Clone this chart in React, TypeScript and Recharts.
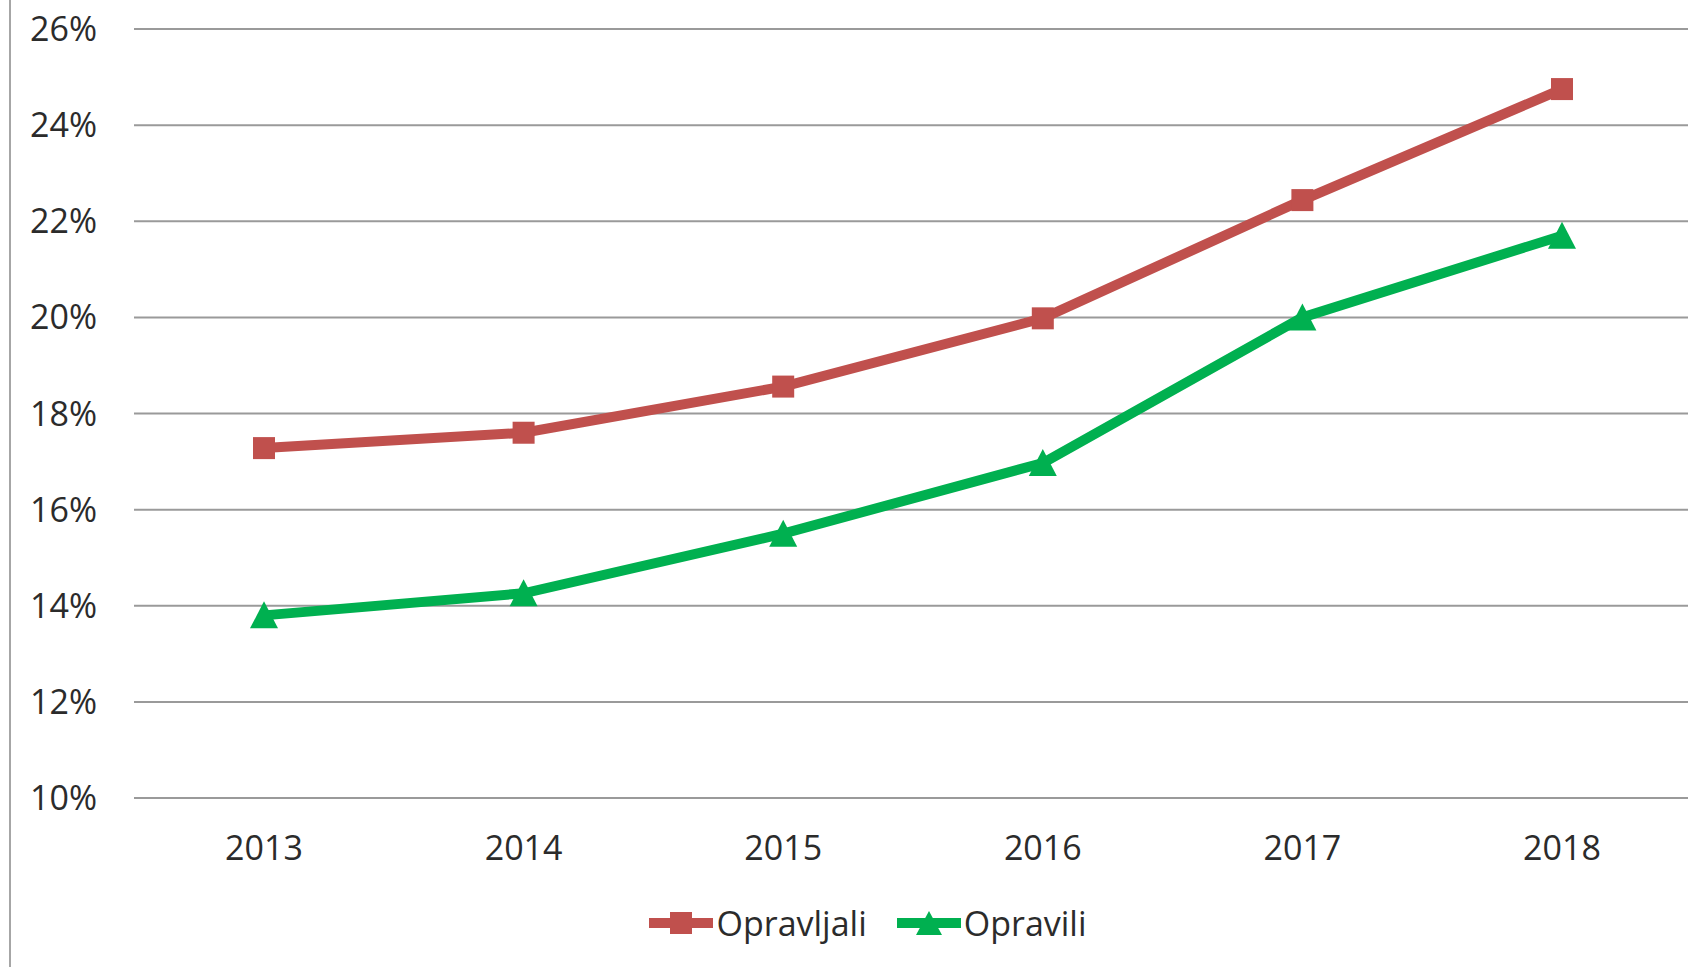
import React from "react";
import {
  LineChart,
  Line,
  XAxis,
  YAxis,
  CartesianGrid,
  Legend,
} from "recharts";

// categories and values
const years = ["2013", "2014", "2015", "2016", "2017", "2018"];
const opravljali = [17.28, 17.6, 18.56, 19.98, 22.44, 24.75];
const opravili = [13.8, 14.26, 15.5, 16.97, 20.0, 21.7];
const yTicks = [10, 12, 14, 16, 18, 20, 22, 24, 26];
const seriesOrder = ["opravljali", "opravili"];

const RED = "#C0504D";
const GREEN = "#00B050";
const FONT = "'Open Sans', sans-serif";
const TEXT = "#2b2b2b";

const data = years.map((year, i) => ({
  year,
  opravljali: opravljali[i],
  opravili: opravili[i],
}));

const SquareDot = (props: any) => {
  const { cx, cy, index } = props;
  if (cx == null || cy == null) return null;
  return <rect key={`sq-${index}`} x={cx - 11} y={cy - 11} width={22} height={22} fill={RED} />;
};

const TriangleDot = (props: any) => {
  const { cx, cy, index } = props;
  if (cx == null || cy == null) return null;
  return (
    <path
      key={`tr-${index}`}
      d={`M${cx},${cy - 14} L${cx + 14},${cy + 13} L${cx - 14},${cy + 13} Z`}
      fill={GREEN}
    />
  );
};

const LegendIcon = ({ color, shape }: { color: string; shape: string }) => (
  <svg width={64} height={30} style={{ display: "block" }}>
    <line x1={0} y1={15} x2={64} y2={15} stroke={color} strokeWidth={10} />
    {shape === "square" ? (
      <rect x={21} y={4} width={22} height={22} fill={color} />
    ) : (
      <path d="M32,3 L45,27 L19,27 Z" fill={color} />
    )}
  </svg>
);

const renderLegend = (props: any) => {
  const items = [...(props.payload || [])].sort(
    (a: any, b: any) => seriesOrder.indexOf(a.dataKey) - seriesOrder.indexOf(b.dataKey)
  );
  return (
    <div
      style={{
        height: 80,
        display: "flex",
        justifyContent: "center",
        alignItems: "flex-start",
        paddingTop: 18,
        paddingLeft: 64,
        boxSizing: "border-box",
      }}
    >
      {items.map((entry: any) => (
        <div
          key={entry.value}
          style={{ display: "flex", alignItems: "center", marginRight: 30 }}
        >
          <LegendIcon
            color={entry.color}
            shape={entry.dataKey === "opravljali" ? "square" : "triangle"}
          />
          <span
            style={{
              fontFamily: FONT,
              fontSize: 34,
              color: TEXT,
              marginLeft: 3,
              lineHeight: "36px",
            }}
          >
            {entry.value}
          </span>
        </div>
      ))}
    </div>
  );
};

export default function App() {
  return (
    <div
      style={{
        position: "fixed",
        left: 0,
        top: 0,
        width: 1688,
        height: 967,
        overflow: "hidden",
        background: "#fff",
      }}
    >
      <div
        style={{
          position: "absolute",
          left: 9,
          top: 0,
          width: 2,
          height: 967,
          background: "#a6a6a6",
        }}
      />
      <LineChart
        width={1700}
        height={967}
        data={data}
        margin={{ top: 29, right: 8, left: 10, bottom: 0 }}
      >
        <CartesianGrid vertical={false} stroke="#9a9a9a" strokeWidth={2} />
        <XAxis
          dataKey="year"
          axisLine={false}
          tickLine={false}
          tickSize={0}
          tickMargin={38}
          height={89}
          padding={{ left: 130, right: 130 }}
          tick={{ fontFamily: FONT, fontSize: 34, fill: TEXT }}
        />
        <YAxis
          domain={[10, 26]}
          ticks={yTicks}
          axisLine={false}
          tickLine={false}
          tickSize={0}
          tickMargin={37}
          width={124}
          tickFormatter={(v) => `${v}%`}
          tick={{ fontFamily: FONT, fontSize: 34, fill: TEXT }}
        />
        <Legend verticalAlign="bottom" content={renderLegend} />
        <Line
          name="Opravljali"
          dataKey="opravljali"
          stroke={RED}
          strokeWidth={10}
          dot={SquareDot}
          activeDot={false}
          isAnimationActive={false}
        />
        <Line
          name="Opravili"
          dataKey="opravili"
          stroke={GREEN}
          strokeWidth={10}
          dot={TriangleDot}
          activeDot={false}
          isAnimationActive={false}
        />
      </LineChart>
    </div>
  );
}
